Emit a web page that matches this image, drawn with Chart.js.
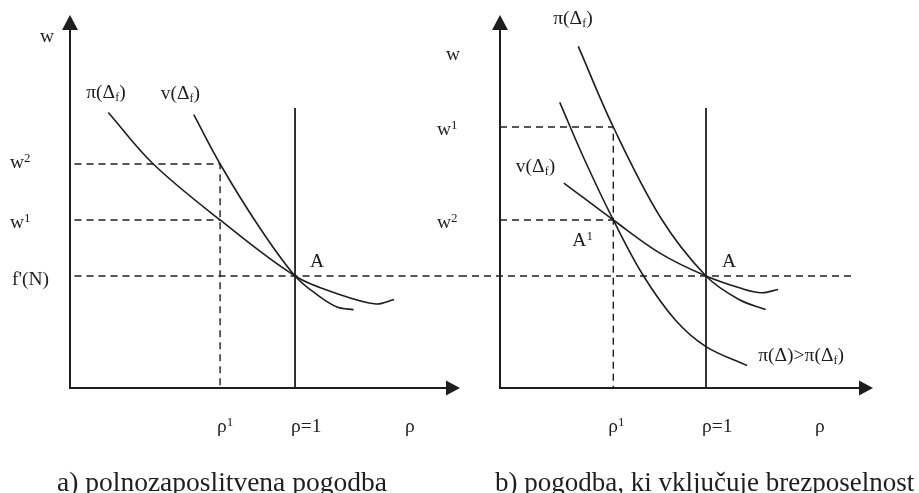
<!DOCTYPE html>
<html>
<head>
    <meta charset="utf-8">
    <script src="https://cdn.jsdelivr.net/npm/chart.js"></script>
    <title>Pogodbe</title>
    <style>
        body { margin: 0; background: #fff; }
        .panel { position: absolute; top: 0; }
    </style>
</head>
<body>
<canvas id="chartA" class="panel" width="470" height="493" style="left:0px"></canvas>
<canvas id="chartB" class="panel" width="494" height="493" style="left:425px"></canvas>

<script>
    // shared levels
    var rhoFull = 1;      // rho = 1
    var wFN = 1;          // f'(N)
    var wTop = 2.5;       // top of the rho = 1 line

    // a) polnozaposlitvena pogodba
    var aRho1 = 0.667;
    var aW1 = 1.5;
    var aW2 = 2.0;
    var aPi = [[0.17, 2.46], [0.37, 2.0], [0.667, 1.5], [1, 1], [1.19, 0.84], [1.36, 0.75], [1.44, 0.79]];
    var aV  = [[0.55, 2.44], [0.667, 2.0], [0.84, 1.44], [1, 1], [1.1, 0.83], [1.19, 0.72], [1.26, 0.7]];

    // b) pogodba, ki vkljucuje brezposelnost
    var bRho1 = 0.55;
    var bW1 = 2.33;
    var bW2 = 1.5;
    var bPiF = [[0.38, 3.05], [0.55, 2.33], [0.78, 1.52], [1, 1], [1.16, 0.79], [1.29, 0.7]];
    var bV   = [[0.31, 1.83], [0.55, 1.5], [0.78, 1.2], [1, 1], [1.17, 0.89], [1.27, 0.85], [1.35, 0.88]];
    var bPi  = [[0.29, 2.55], [0.41, 2.04], [0.55, 1.5], [0.69, 1.02], [0.85, 0.61], [1, 0.37], [1.2, 0.2]];

    var ink = '#1e1e1e';
    var serif = '"Liberation Serif", "DejaVu Serif", serif';

    var line = function(pts, dashed, width){
        return {
            data: pts.map(function(p){ return {x: p[0], y: p[1]}; }),
            showLine: true,
            borderColor: ink,
            borderWidth: width || 1.6,
            borderDash: dashed ? [7, 5] : [],
            tension: dashed ? 0 : 0.35,
            pointRadius: 0,
            clip: false
        };
    }

    // text with '_x' as subscript and '^x' as superscript
    var rich = function(ctx, str, x, y, size){
        for (var i = 0; i < str.length; i++){
            var c = str[i], shift = 0, font = size + 'px ' + serif;
            if ((c === '_' || c === '^') && i + 1 < str.length){
                shift = c === '_' ? 3 : -6;
                font = (c === '_' ? 12 : 13) + 'px ' + serif;
                c = str[++i];
            }
            ctx.font = font;
            ctx.fillText(c, x, y + shift);
            x += ctx.measureText(c).width;
        }
    }

    var axesPlugin = function(getLabels, caption, capX, capSize){
        return {
            id: 'axesAndText',
            afterDraw: function(chart){
                var a = chart.chartArea, ctx = chart.ctx;
                ctx.save();
                ctx.strokeStyle = ink;
                ctx.fillStyle = ink;
                ctx.lineWidth = 2;
                ctx.beginPath();
                ctx.moveTo(a.left, a.top + 12);
                ctx.lineTo(a.left, a.bottom);
                ctx.lineTo(a.right - 12, a.bottom);
                ctx.stroke();
                ctx.beginPath();
                ctx.moveTo(a.left, a.top);
                ctx.lineTo(a.left - 8, a.top + 15);
                ctx.lineTo(a.left + 8, a.top + 15);
                ctx.fill();
                ctx.beginPath();
                ctx.moveTo(a.right, a.bottom);
                ctx.lineTo(a.right - 14, a.bottom - 7.5);
                ctx.lineTo(a.right - 14, a.bottom + 7.5);
                ctx.fill();

                ctx.textBaseline = 'alphabetic';
                ctx.textAlign = 'left';
                getLabels(chart).forEach(function(l){ rich(ctx, l[0], l[1], l[2], 19.5); });
                ctx.font = capSize + 'px ' + serif;
                ctx.fillText(caption, capX, 491);
                ctx.restore();
            }
        };
    }

    var makeChart = function(id, datasets, xMax, pad, plugin){
        return new Chart(document.getElementById(id), {
            type: 'scatter',
            data: { datasets: datasets },
            options: {
                responsive: false,
                animation: false,
                layout: { padding: pad },
                plugins: { legend: { display: false }, tooltip: { enabled: false } },
                scales: {
                    x: { type: 'linear', min: 0, max: xMax, display: false },
                    y: { type: 'linear', min: 0, max: 3.33, display: false }
                }
            },
            plugins: [plugin]
        });
    }

    var labelsA = function(c){
        var X = c.scales.x, Y = c.scales.y, a = c.chartArea;
        var px = function(v){ return X.getPixelForValue(v); }, py = function(v){ return Y.getPixelForValue(v); };
        return [
            ['w', a.left - 30, a.top + 27],
            ['π(Δ_f)', px(aPi[0][0]) - 22, py(aPi[0][1]) - 14],
            ['v(Δ_f)', px(aV[0][0]) - 33, py(aV[0][1]) - 16],
            ['w^2', a.left - 60, py(aW2) + 4],
            ['w^1', a.left - 60, py(aW1) + 8],
            ["f'(N)", a.left - 58, py(wFN) + 9],
            ['A', px(rhoFull) + 15, py(wFN) - 9],
            ['ρ^1', px(aRho1) - 3, a.bottom + 44],
            ['ρ=1', px(rhoFull) - 4, a.bottom + 44],
            ['ρ', a.left + 335, a.bottom + 44]
        ];
    }

    var labelsB = function(c){
        var X = c.scales.x, Y = c.scales.y, a = c.chartArea;
        var px = function(v){ return X.getPixelForValue(v); }, py = function(v){ return Y.getPixelForValue(v); };
        var last = bPi[bPi.length - 1];
        return [
            ['w', a.left - 54, a.top + 45],
            ['w^1', a.left - 63, py(bW1) + 8],
            ['w^2', a.left - 63, py(bW2) + 8],
            ['π(Δ_f)', px(bPiF[0][0]) - 25, py(bPiF[0][1]) - 22],
            ['v(Δ_f)', px(bV[0][0]) - 48, py(bV[0][1]) - 11],
            ['A^1', px(bRho1) - 41, py(bW2) + 26],
            ['A', px(rhoFull) + 16, py(wFN) - 9],
            ['π(Δ)>π(Δ_f)', px(last[0]) + 11, py(last[1]) - 5],
            ['ρ^1', px(bRho1) - 5, a.bottom + 44],
            ['ρ=1', px(rhoFull) - 4, a.bottom + 44],
            ['ρ', a.left + 315, a.bottom + 44]
        ];
    }

    // left panel: rho unit 225px, w unit 112px
    makeChart('chartA', [
        line([[0.02, aW2], [aRho1, aW2], [aRho1, 0]], true, 1.4),
        line([[0.02, aW1], [aRho1, aW1]], true, 1.4),
        line([[0.02, wFN], [1.733, wFN]], true, 1.4),
        line([[rhoFull, 0], [rhoFull, wTop]], false, 1.8),
        line(aPi),
        line(aV)
    ], 1.733, { left: 70, right: 10, top: 15, bottom: 105 },
       axesPlugin(labelsA, 'a) polnozaposlitvena pogodba', 57, 27.5));

    // right panel: rho unit 206px, w unit 112px
    makeChart('chartB', [
        line([[0, bW1], [bRho1, bW1], [bRho1, 0]], true, 1.4),
        line([[0, bW2], [bRho1, bW2]], true, 1.4),
        line([[-0.194, wFN], [1.723, wFN]], true, 1.4),
        line([[rhoFull, 0], [rhoFull, wTop]], false, 1.8),
        line(bPiF),
        line(bV),
        line(bPi)
    ], 1.8107, { left: 75, right: 46, top: 15, bottom: 105 },
       axesPlugin(labelsB, 'b) pogodba, ki vključuje brezposelnost', 70, 27));
</script>
</body>
</html>
